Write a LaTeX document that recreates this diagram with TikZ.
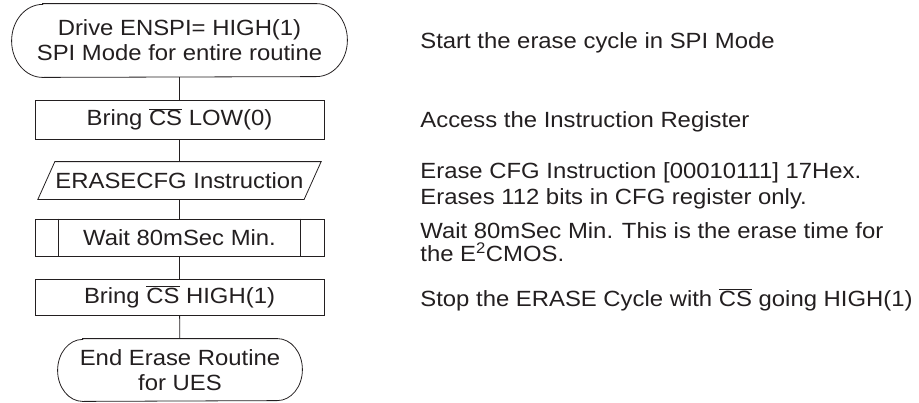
\documentclass[tikz,border=0pt]{standalone}
\usepackage{fontspec}
\setmainfont[FakeStretch=1.085]{Liberation Sans}
\definecolor{ink}{HTML}{231F20}
\newcommand\ovlcs{$\overline{\hbox{CS}}$}
\begin{document}
\begin{tikzpicture}[x=1pt,y=-1pt,line width=0.8pt,draw=ink,
  every node/.style={font=\fontsize{22}{25}\selectfont,text=ink,inner sep=0pt},
  box/.style={draw,minimum width=289pt},
  shp/.style={minimum width=#1},
  note/.style={anchor=base west}]
\useasboundingbox (0,0) rectangle (919,402);
% flowchart nodes
\node[shp=335pt,minimum height=73pt,align=center] (s) at (179.5,40.5) {Drive ENSPI= HIGH(1)\\SPI Mode for entire routine};
\node[box,minimum height=39pt] (b1) at (179.5,119.5) {Bring \ovlcs{} LOW(0)};
\node[shp=265.5pt,minimum height=37pt] (p) at (179.5,180.5) {ERASECFG Instruction};
\node[box,minimum height=37pt] (w) at (179.5,237.5) {Wait 80mSec Min.};
\node[box,minimum height=36pt] (b2) at (179.5,297) {Bring \ovlcs{} HIGH(1)};
\node[shp=244pt,minimum height=62pt,align=center] (e) at (180,370) {End Erase Routine\\for UES};
% shapes
\draw ([xshift=31pt]s.north west) -- ([xshift=-31pt]s.north east)
  arc[start angle=90,end angle=-90,x radius=31pt,y radius=36.5pt]
  -- ([xshift=31pt]s.south west)
  arc[start angle=270,end angle=90,x radius=31pt,y radius=36.5pt] -- cycle;
\draw ([xshift=8.5pt]p.north west) -- ([xshift=8.5pt]p.north east)
  -- ([xshift=-8.5pt]p.south east) -- ([xshift=-8.5pt]p.south west) -- cycle;
\draw ([xshift=24pt]w.north west) -- ([xshift=24pt]w.south west);
\draw ([xshift=-24pt]w.north east) -- ([xshift=-24pt]w.south east);
\draw ([xshift=25pt]e.north west) -- ([xshift=-25pt]e.north east)
  arc[start angle=90,end angle=-90,x radius=25pt,y radius=31pt]
  -- ([xshift=25pt]e.south west)
  arc[start angle=270,end angle=90,x radius=25pt,y radius=31pt] -- cycle;
% connectors
\draw (s) -- (b1);
\draw (b1) -- (p);
\draw (p) -- (w);
\draw (w) -- (b2);
\draw (b2) -- (e);
% notes
\node[note] (n1) at (420,48) {Start the erase cycle in SPI Mode};
\node[note] (n2) at (420,127) {Access the Instruction Register};
\node[note] (n3) at (420,178) {Erase CFG Instruction [00010111] 17Hex.};
\node[note] (n4) at (420,204) {Erases 112 bits in CFG register only.};
\node[note] (n5) at (420,238) {Wait 80mSec Min. This is the erase time for};
\node[note] (n6) at (420,261) {the E\smash{\textsuperscript{2}}CMOS.};
\node[note] (n7) at (420,306) {Stop the ERASE Cycle with \ovlcs{} going HIGH(1)};
\end{tikzpicture}
\end{document}
